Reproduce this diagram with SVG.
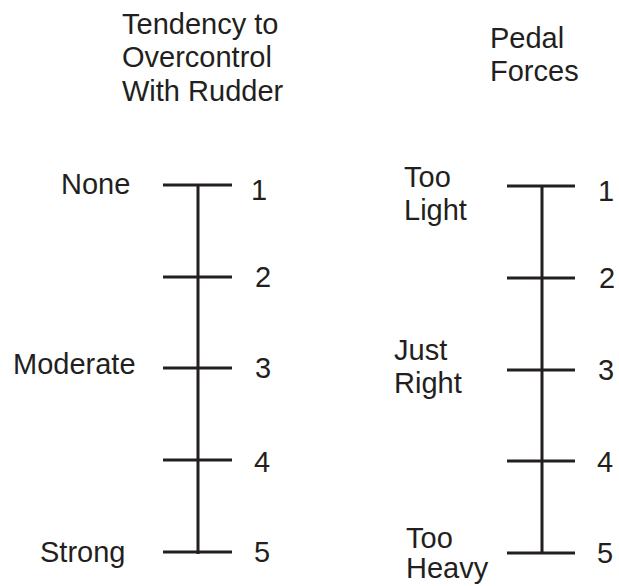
<svg xmlns="http://www.w3.org/2000/svg" width="619" height="586" viewBox="0 0 619 586">
<style>
text{font-family:"Liberation Sans",Arial,sans-serif;font-size:29px;fill:#231f20}
line{stroke:#231f20;stroke-width:3}
</style>
<rect width="619" height="586" fill="#fff"/>
<g id="title-left">
<text x="122" y="34">Tendency to</text>
<text x="122" y="67">Overcontrol</text>
<text x="122" y="101">With Rudder</text>
</g>
<g id="title-right">
<text x="490" y="48">Pedal</text>
<text x="490" y="81">Forces</text>
</g>
<g id="connectors">
<line x1="198" y1="185" x2="198" y2="554"/>
<line x1="163" y1="185" x2="232" y2="185"/>
<line x1="163" y1="277" x2="232" y2="277"/>
<line x1="163" y1="368" x2="232" y2="368"/>
<line x1="163" y1="460" x2="232" y2="460"/>
<line x1="163" y1="552" x2="232" y2="552"/>
<line x1="542" y1="186" x2="542" y2="554"/>
<line x1="507" y1="186" x2="575" y2="186"/>
<line x1="507" y1="278" x2="575" y2="278"/>
<line x1="507" y1="370" x2="575" y2="370"/>
<line x1="507" y1="461" x2="575" y2="461"/>
<line x1="507" y1="553" x2="575" y2="553"/>
</g>
<g id="left-labels">
<text x="61" y="194">None</text>
<text x="13" y="374">Moderate</text>
<text x="40" y="562">Strong</text>
</g>
<g id="left-numbers">
<text x="251" y="200">1</text>
<text x="255" y="287">2</text>
<text x="255" y="378">3</text>
<text x="254" y="472">4</text>
<text x="254" y="562">5</text>
</g>
<g id="right-labels">
<text x="404" y="187">Too</text>
<text x="404" y="220">Light</text>
<text x="394" y="360">Just</text>
<text x="394" y="393">Right</text>
<text x="406" y="548">Too</text>
<text x="406" y="578">Heavy</text>
</g>
<g id="right-numbers">
<text x="598" y="201">1</text>
<text x="599" y="288">2</text>
<text x="598" y="380">3</text>
<text x="597" y="472">4</text>
<text x="597" y="563">5</text>
</g>
</svg>
